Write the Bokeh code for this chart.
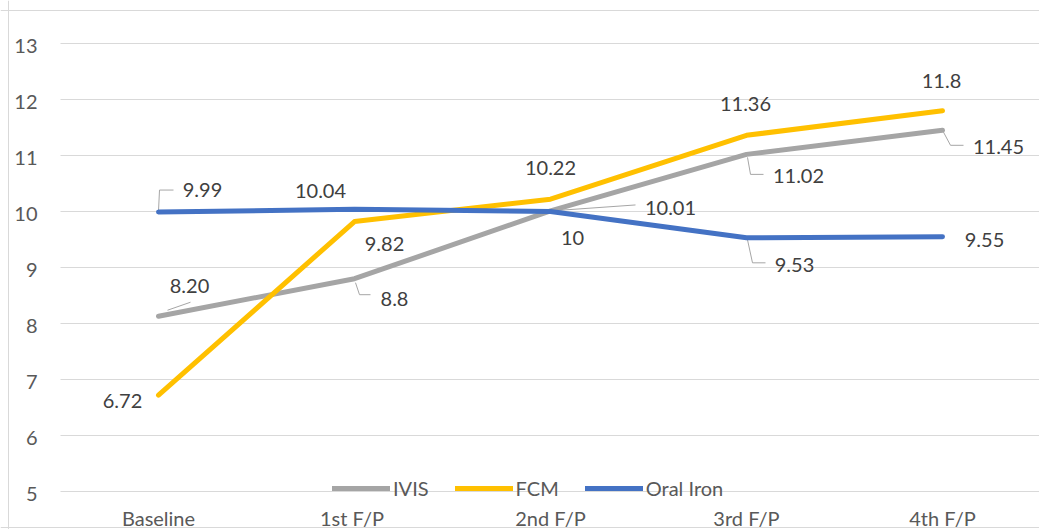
from bokeh.plotting import figure
from bokeh.models import ColumnDataSource, Span, Legend, LegendItem, Grid, FixedTicker, Range1d
from bokeh.core.properties import value
from bokeh.embed import file_html
from bokeh.resources import INLINE

# ---------------- data ----------------
categories = ["Baseline", "1st  F/P", "2nd F/P", "3rd F/P", "4th F/P"]
ivis = [8.13, 8.8, 10.01, 11.02, 11.45]
ivis_labels = ["8.20", "8.8", "10.01", "11.02", "11.45"]
fcm = [6.72, 9.82, 10.22, 11.36, 11.8]
fcm_labels = ["6.72", "9.82", "10.22", "11.36", "11.8"]
oral = [9.99, 10.04, 10.0, 9.53, 9.55]
oral_labels = ["9.99", "10.04", "10", "9.53", "9.55"]
y_ticks = [5, 6, 7, 8, 9, 10, 11, 12, 13]
y_tick_labels = ["5", "6", "7", "8", "9", "10", "11", "12", "13"]

# ---------------- layout (pixels) ----------------
W, H = 1039, 529
PX_X, X0_PX = 196.0, 158.0      # pixels per category, first category centre
PX_Y, YTOP_PX = 56.0, 43.0       # pixels per unit, pixel of top tick
x_start = -X0_PX / PX_X
x_end = x_start + W / PX_X
y_end = y_ticks[-1] + YTOP_PX / PX_Y
y_start = y_end - H / PX_Y

def px_x(px):
    return x_start + px / PX_X

def px_y(py):
    return y_end - py / PX_Y

GRAY, GOLD, BLUE = "#A5A5A5", "#FFC000", "#4472C4"
LABEL_C, AXIS_C, GRID_C = "#404040", "#595959", "#D9D9D9"
FONT = "Lato"
FS = "20px"

p = figure(width=W, height=H, output_backend="svg", toolbar_location=None,
           x_range=Range1d(x_start, x_end), y_range=Range1d(y_start, y_end),
           x_axis_location=None, y_axis_location=None, min_border=0)
p.outline_line_color = None
p.xgrid.visible = False
p.ygrid.visible = False

grid = Grid(dimension=1, ticker=FixedTicker(ticks=y_ticks), grid_line_color=GRID_C,
            grid_line_width=1, cross_bounds=(-0.5, x_end))
p.add_layout(grid, "center")

# border of chart area
for sp in [Span(location=px_x(8), dimension="height"),
           Span(location=px_y(10), dimension="width"),
           Span(location=px_y(527), dimension="width")]:
    sp.line_color = GRID_C
    sp.line_width = 1
    p.add_layout(sp)

xs = list(range(len(categories)))

# label offsets (px, screen coords: +x right, +y down) for centre of label
ivis_off = [(31, -31), (40, 19), (120, -4), (52, 21), (56, 16)]
fcm_off = [(-36, 5), (30, 21), (0, -32), (-1, -32), (-1, -31)]
oral_off = [(44, -23), (-34, -19), (22, 25), (48, 26), (42, 2)]

# leader lines: (series values, index, list of px offsets)
leaders = [
    (oral, 0, [(0, -1), (1, -22), (15, -22)]),
    (ivis, 0, [(9, -6), (32, -14)]),
    (ivis, 1, [(1, 4), (5, 16), (16, 16)]),
    (ivis, 2, [(0, 0), (85, -6)]),
    (ivis, 3, [(1, 3), (4, 20), (17, 20)]),
    (oral, 3, [(1, 2), (6, 25), (19, 25)]),
    (ivis, 4, [(0, 0), (8, 15), (21, 15)]),
]
lx, ly = [], []
for series, i, pts in leaders:
    lx.append([xs[i] + dx / PX_X for dx, dy in pts])
    ly.append([series[i] - dy / PX_Y for dx, dy in pts])
p.multi_line(lx, ly, line_color="#A6A6A6", line_width=1)

renderers = []
for vals, col in [(ivis, GRAY), (fcm, GOLD), (oral, BLUE)]:
    r = p.line(xs, vals, line_color=col, line_width=5, line_cap="round", line_join="round")
    renderers.append(r)

BASE = 1  # baseline offset so that digit centre sits at target
for vals, labs, offs in [(ivis, ivis_labels, ivis_off), (fcm, fcm_labels, fcm_off),
                         (oral, oral_labels, oral_off)]:
    src = ColumnDataSource(dict(x=xs, y=vals, t=labs,
                                xo=[o[0] for o in offs], yo=[o[1] + BASE for o in offs]))
    p.text(x="x", y="y", text="t", x_offset="xo", y_offset="yo", source=src,
           text_align="center", text_baseline="alphabetic",
           text_font=value(FONT), text_font_size=FS, text_color=LABEL_C)

# y tick labels
p.text(x=[px_x(37)] * len(y_ticks), y=y_ticks, text=y_tick_labels, y_offset=2,
       text_align="right", text_baseline="alphabetic",
       text_font=value(FONT), text_font_size=FS, text_color=AXIS_C)

# category labels
p.text(x=xs, y=[px_y(517)] * len(xs), text=categories,
       text_align="center", text_baseline="alphabetic",
       text_font=value(FONT), text_font_size=FS, text_color=AXIS_C)

legend = Legend(items=[LegendItem(label="IVIS", renderers=[renderers[0]]),
                       LegendItem(label="FCM", renderers=[renderers[1]]),
                       LegendItem(label="Oral Iron", renderers=[renderers[2]])],
                location=(332, 29), orientation="horizontal",
                glyph_width=58, glyph_height=20, label_height=20,
                label_standoff=3, spacing=26, padding=0, margin=0,
                background_fill_alpha=0, border_line_color=None,
                label_text_font=FONT, label_text_font_size=FS, label_text_color=AXIS_C)
p.add_layout(legend)

open("out.html", "w").write(file_html(p, INLINE))
